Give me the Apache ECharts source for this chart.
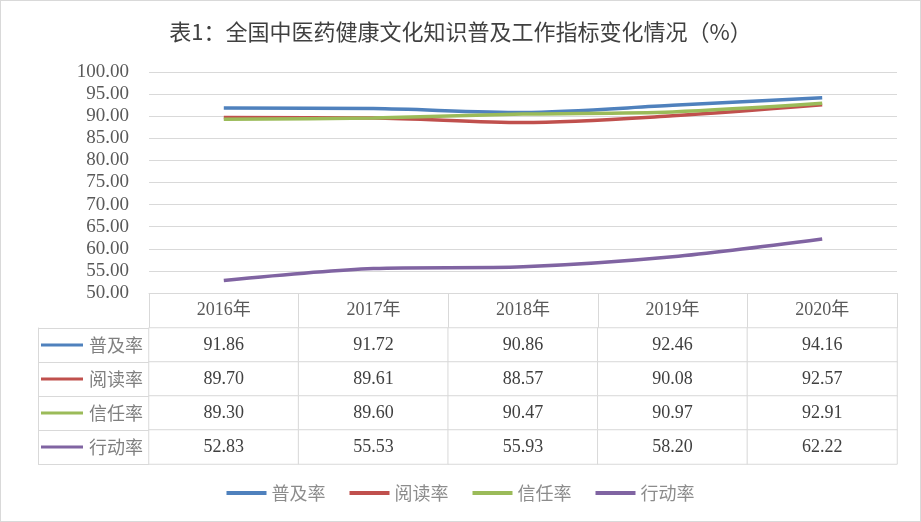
<!DOCTYPE html>
<html>
<head>
<meta charset="utf-8">
<script src="https://cdn.jsdelivr.net/npm/echarts@6/dist/echarts.min.js"></script>
<style>
html, body { margin: 0; padding: 0; background: #fff; }
#chart { width: 919px; height: 520px; border: 1px solid #d9d9d9; }
</style>
</head>
<body>
<div id="chart"></div>
<script>
// 年份（表头）
var years = ['2016年', '2017年', '2018年', '2019年', '2020年'];
// 指标名称
var names = ['普及率', '阅读率', '信任率', '行动率'];
// 各指标数值（%）
var puji = [91.86, 91.72, 90.86, 92.46, 94.16];
var yuedu = [89.70, 89.61, 88.57, 90.08, 92.57];
var xinren = [89.30, 89.60, 90.47, 90.97, 92.91];
var xingdong = [52.83, 55.53, 55.93, 58.20, 62.22];
var colors = ['#4f81bd', '#c0504d', '#9bbb59', '#8064a2'];

var values = [puji, yuedu, xinren, xingdong];
var serif = '"Liberation Serif", "Noto Sans CJK SC", serif';
var gridColor = '#d9d9d9';

// 表格单元格数据 [列, 行, 值]
var cells = [];
for (var r = 0; r < values.length; r++) {
    for (var c = 0; c < years.length; c++) {
        cells.push([c, r, values[r][c]]);
    }
}

// 左侧图例列的富文本
var rowRich = { name: { fontFamily: '"Noto Sans CJK SC", sans-serif', fontSize: 18, color: '#808080', padding: [0, 0, 0, 6] } };
names.forEach(function (n, i) {
    rowRich['k' + i] = { width: 42, height: 3, backgroundColor: colors[i] };
});

var chart = echarts.init(document.getElementById('chart'));
var lineSeries = names.map(function (n, i) {
    return {
        name: n,
        type: 'line',
        xAxisIndex: 0,
        yAxisIndex: 0,
        data: values[i],
        smooth: 0.3,
        showSymbol: false,
        lineStyle: { width: 3.5, color: colors[i] },
        itemStyle: { color: colors[i] }
    };
});

var option = {
    animation: false,
    backgroundColor: '#fff',
    title: {
        text: '表1：全国中医药健康文化知识普及工作指标变化情况（%）',
        left: 'center',
        top: 15,
        textStyle: { fontFamily: '"Noto Sans CJK SC", sans-serif', fontSize: 22, fontWeight: 'normal', color: '#404040' }
    },
    legend: {
        bottom: 14,
        left: 'center',
        icon: 'rect',
        itemWidth: 40,
        itemHeight: 4,
        itemGap: 24,
        textStyle: { fontFamily: '"Noto Sans CJK SC", sans-serif', fontSize: 18, color: '#8c8c8c' },
        data: names
    },
    grid: [
        { left: 148, right: 23, top: 71, height: 221 },
        { left: 148, right: 23, top: 327, height: 136 }
    ],
    xAxis: [
        {
            type: 'category',
            gridIndex: 0,
            data: years,
            boundaryGap: true,
            axisLine: { lineStyle: { color: gridColor } },
            axisTick: { show: true, length: 35, lineStyle: { color: gridColor } },
            axisLabel: { margin: 8, fontFamily: serif, fontSize: 18, color: '#595959' }
        },
        {
            type: 'category',
            gridIndex: 1,
            data: years,
            show: false
        }
    ],
    yAxis: [
        {
            type: 'value',
            gridIndex: 0,
            min: 50,
            max: 100,
            interval: 5,
            axisLine: { show: false },
            axisTick: { show: false },
            splitLine: { lineStyle: { color: gridColor } },
            axisLabel: {
                margin: 20,
                fontFamily: serif,
                fontSize: 19,
                color: '#595959',
                formatter: function (v) { return v.toFixed(2); }
            }
        },
        {
            type: 'category',
            gridIndex: 1,
            data: names,
            inverse: true,
            axisLine: { show: false },
            axisTick: { show: true, length: 111, lineStyle: { color: gridColor } },
            axisLabel: {
                margin: 6,
                formatter: function (v, i) { return '{k' + i + '|}{name|' + v + '}'; },
                rich: rowRich
            }
        },
        {
            type: 'category',
            gridIndex: 1,
            data: names,
            inverse: true,
            position: 'left',
            offset: 111,
            axisLine: { show: true, lineStyle: { color: gridColor } },
            axisTick: { show: false },
            axisLabel: { show: false }
        }
    ],
    series: lineSeries.concat([{
        type: 'heatmap',
        xAxisIndex: 1,
        yAxisIndex: 1,
        data: cells,
        itemStyle: { color: '#fff', borderColor: gridColor, borderWidth: 1 },
        label: {
            show: true,
            fontFamily: serif,
            fontSize: 18,
            color: '#404040',
            formatter: function (p) { return p.value[2].toFixed(2); }
        },
        emphasis: { disabled: true }
    }])
};
chart.setOption(option);
</script>
</body>
</html>
